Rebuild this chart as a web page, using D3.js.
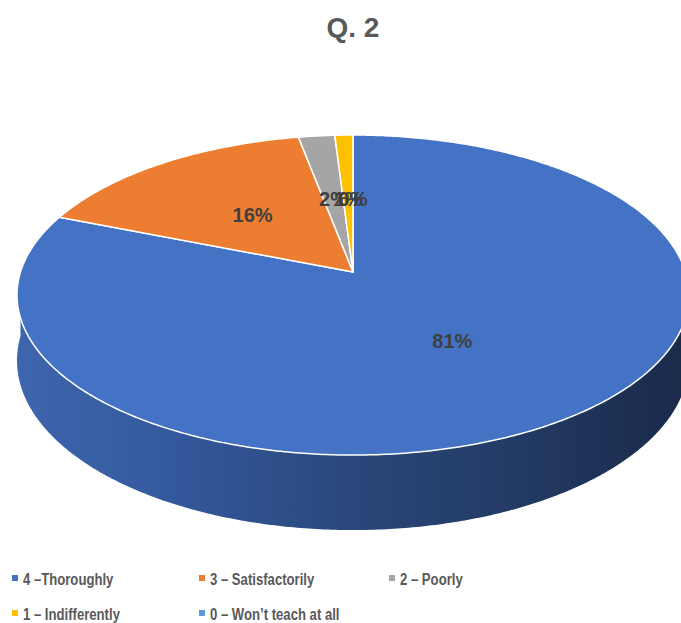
<!DOCTYPE html>
<html>
<head>
<meta charset="utf-8">
<script src="https://cdn.jsdelivr.net/npm/d3@7/dist/d3.min.js"></script>
<style>
html,body{margin:0;padding:0;background:#fff;}
svg{display:block;}
</style>
</head>
<body>
<svg id="chart" width="681" height="623"></svg>
<script>
// ---- data ----
const title = "Q. 2";
const categories = ["4 –Thoroughly", "3 – Satisfactorily", "2 – Poorly", "1 – Indifferently", "0 – Won’t teach at all"];
const values = [81, 16, 2, 1, 0];
const labels = ["81%", "16%", "2%", "1%", "0%"];
const colors = ["#4472C4", "#ED7D31", "#A5A5A5", "#FFC000", "#5B9BD5"];

// ---- layout ----
const W = 681, H = 623;
const cx = 353, cy = 272;       // pie centre on screen
const A = 332.5, B = 156.7;     // horizontal / vertical radii before perspective
const P = 0.144;                // perspective factor
const DEPTH = 64.2;             // thickness

const svg = d3.select("#chart");

const xScale = d3.scaleLinear().domain([-1, 1]).range([cx - A, cx + A]);
const yScale = d3.scaleLinear().domain([-1, 1]).range([cy + B, cy - B]);

function proj(phi, f, h) {
  const X = f * Math.sin(phi), Z = f * Math.cos(phi);
  const w = 1 + P * Z;
  return [xScale(X / w), yScale(Z / w) + (DEPTH * h) / w];
}

const pie = d3.pie().sort(null).value(d => d).startAngle(0).endAngle(2 * Math.PI);
const arcs = pie(values);

const line = d3.line().curve(d3.curveLinear);

function sampleAngles(a0, a1) {
  const n = Math.max(2, Math.ceil(Math.abs(a1 - a0) / 0.01));
  return d3.range(n + 1).map(i => a0 + (a1 - a0) * i / n);
}

// gradient for side
const defs = svg.append("defs");
const grad = defs.append("linearGradient")
  .attr("id", "sideGrad")
  .attr("gradientUnits", "userSpaceOnUse")
  .attr("x1", cx - A * 1.01).attr("x2", cx + A * 1.01)
  .attr("y1", 0).attr("y2", 0);
[[0, "#3e66ae"], [0.25, "#33579a"], [0.5, "#2a477b"], [0.75, "#223a63"], [1, "#1a2a4a"]]
  .forEach(([o, c]) => grad.append("stop").attr("offset", o).attr("stop-color", c));

// side walls (front half only)
const frontStart = Math.PI / 2, frontEnd = 3 * Math.PI / 2;
const sideG = svg.append("g");
arcs.forEach((a, i) => {
  const s = Math.max(a.startAngle, frontStart), e = Math.min(a.endAngle, frontEnd);
  if (e <= s) return;
  const angs = sampleAngles(s, e);
  const top = angs.map(t => proj(t, 1, 0));
  const bot = angs.slice().reverse().map(t => proj(t, 1, 1));
  sideG.append("path")
    .attr("d", line(top.concat(bot)) + "Z")
    .attr("fill", i === 0 ? "url(#sideGrad)" : d3.color(colors[i]).darker(1.2));
});

// top faces
const topG = svg.append("g");
arcs.forEach((a, i) => {
  if (a.endAngle - a.startAngle <= 0) return;
  const pts = [proj(0, 0, 0)].concat(sampleAngles(a.startAngle, a.endAngle).map(t => proj(t, 1, 0)));
  topG.append("path")
    .attr("d", line(pts) + "Z")
    .attr("fill", colors[i])
    .attr("stroke", "#ffffff")
    .attr("stroke-width", 1.5)
    .attr("stroke-linejoin", "round");
});

// data labels
const labG = svg.append("g");
arcs.forEach((a, i) => {
  const mid = (a.startAngle + a.endAngle) / 2;
  const [x, y] = proj(mid, 0.5, 0);
  labG.append("text")
    .attr("x", x).attr("y", y + 7)
    .attr("text-anchor", "middle")
    .attr("font-family", "'Liberation Sans', Arial, sans-serif")
    .attr("font-weight", "bold")
    .attr("font-size", 20)
    .attr("fill", "#404040")
    .text(labels[i]);
});

// title
svg.append("text")
  .attr("x", 353).attr("y", 37)
  .attr("text-anchor", "middle")
  .attr("font-family", "'Liberation Sans', Arial, sans-serif")
  .attr("font-weight", "bold")
  .attr("font-size", 28)
  .attr("fill", "#595959")
  .text(title);

// legend
const legCols = [12, 199, 389];
const legRows = [585, 620];
const legG = svg.append("g");
categories.forEach((c, i) => {
  const col = i % 3, row = Math.floor(i / 3);
  const x = legCols[col], y = legRows[row];
  legG.append("rect")
    .attr("x", x).attr("y", y - 10)
    .attr("width", 6).attr("height", 6)
    .attr("fill", colors[i]);
  legG.append("text")
    .attr("transform", `translate(${x + 11},${y}) scale(0.82,1)`)
    .attr("font-family", "'Liberation Sans', Arial, sans-serif")
    .attr("font-weight", "bold")
    .attr("font-size", 16)
    .attr("fill", "#595959")
    .text(c);
});
</script>
</body>
</html>
